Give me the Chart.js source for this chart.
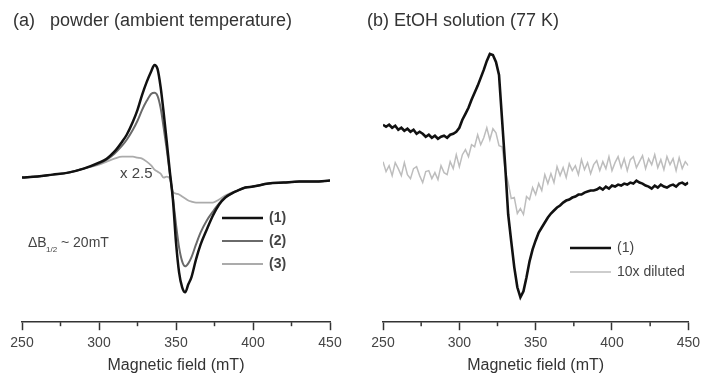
<!DOCTYPE html>
<html>
<head>
<meta charset="utf-8">
<script src="https://cdn.jsdelivr.net/npm/chart.js@4"></script>
<style>
body { margin: 0; background: #fff; }
canvas { position: absolute; top: 0; }
#chart-a { left: 0; }
#chart-b { left: 352px; }
</style>
</head>
<body>
<canvas id="chart-a" width="352" height="374"></canvas>
<canvas id="chart-b" width="353" height="374"></canvas>
<script>
// (a) powder, ambient temperature - field points (mT) and signals (arb. units)
const fieldA = [250, 260, 270, 280, 290, 300, 305, 310, 315, 318, 322, 325, 328, 331, 334, 336, 338, 340, 342, 344,
  346, 348, 350, 352, 354, 356, 358, 360, 363, 366, 370, 374, 378, 382, 386, 390, 395, 400, 410, 420, 430, 440, 450];
const powder1 = [2, 3, 5, 7, 11, 17, 21, 28, 38, 45, 58, 70, 85, 98, 109, 115, 111, 93, 67, 38,
  8, -20, -63, -93, -108, -113, -105, -98, -80, -65, -50, -36, -25, -18, -14, -11, -8, -7, -4, -3, -2, -2, -1];
const powder2 = [2, 3, 5, 7, 11, 16, 20, 26, 34, 40, 50, 59, 70, 79, 86, 87, 84, 72, 52, 30,
  6, -18, -45, -68, -82, -87, -84, -78, -65, -53, -41, -32, -24, -18, -14, -11, -8, -7, -4, -3, -2, -2, -1];
const powder3 = [2, 3, 5, 7, 11, 15, 18, 21, 23, 23, 23, 22, 21, 18, 14, 10, 8, 6, 2, 3,
  1, -12, -14, -15, -17, -19, -21, -22, -23, -23, -23, -23, -20, -16, -13, -11, -8, -7, -4, -3, -2, -2, -1];

// (b) EtOH solution, 77 K
const fieldB = [250, 252, 254, 256, 258, 260, 262, 264, 266, 268, 270, 272, 274, 276, 278, 280, 282, 284, 286, 288,
  290, 292, 294, 296, 298, 300, 302, 304, 306, 308, 310, 312, 314, 316, 318, 320, 322, 324, 326, 328,
  330, 332, 334, 336, 338, 340, 342, 344, 346, 348, 350, 352, 354, 356, 358, 360, 362, 364, 366, 368,
  370, 372, 374, 376, 378, 380, 382, 384, 386, 388, 390, 392, 394, 396, 398, 400, 402, 404, 406, 408,
  410, 412, 414, 416, 418, 420, 422, 424, 426, 428, 430, 432, 434, 436, 438, 440, 442, 444, 446, 448, 450];
const solution1 = [55, 53, 55, 52, 54, 50, 52, 49, 51, 48, 50, 46, 48, 46, 43, 45, 42, 44, 41, 43,
  44, 42, 45, 46, 48, 52, 60, 66, 72, 80, 87, 94, 102, 110, 119, 126, 125, 118, 105, 60,
  15, -35, -62, -88, -108, -118, -112, -98, -82, -70, -61, -53, -48, -43, -38, -34, -31, -28, -26, -23,
  -21, -20, -18, -17, -15, -15, -13, -12, -11, -11, -10, -8, -10, -7, -9, -6, -7, -5, -6, -4,
  -5, -3, -4, -1, -3, -4, -6, -7, -9, -6, -8, -5, -7, -8, -6, -5, -7, -4, -3, -5, -3];
const diluted = [18, 8, 14, 4, 17, 11, 4, 17, 5, 1, 11, 13, 4, -3, 8, 9, 1, 7, 0, 14,
  7, 5, 18, 11, 25, 13, 25, 30, 23, 35, 33, 45, 35, 42, 52, 40, 51, 47, 34, 33,
  9, -3, -19, -18, -34, -29, -35, -17, -20, -8, -15, -4, -11, 5, -4, 6, -3, 13, 4, 12,
  2, 16, 9, 14, 5, 20, 10, 17, 6, 15, 19, 9, 18, 11, 23, 9, 17, 23, 12, 21,
  9, 20, 23, 12, 18, 24, 11, 21, 15, 25, 12, 20, 10, 23, 15, 21, 9, 22, 11, 18, 14];

const minorTicks = [275, 325, 375, 425];

Chart.defaults.font.family = "'Liberation Sans', Arial, sans-serif";
Chart.defaults.color = '#333';

function toPoints(xs, ys) {
  return xs.map((x, i) => ({ x: x, y: ys[i] }));
}

// titles, notes, minor ticks and in-plot legend
const extras = {
  id: 'extras',
  afterDraw(chart, args, opts) {
    const ctx = chart.ctx;
    const xs = chart.scales.x;
    ctx.save();
    ctx.strokeStyle = '#333';
    ctx.lineWidth = 1.5;
    minorTicks.forEach(v => {
      const px = xs.getPixelForValue(v);
      ctx.beginPath();
      ctx.moveTo(px, xs.top);
      ctx.lineTo(px, xs.top + 4);
      ctx.stroke();
    });
    ctx.textBaseline = 'middle';
    (opts.texts || []).forEach(t => {
      ctx.font = t.font;
      ctx.fillStyle = t.color || '#333';
      ctx.fillText(t.text, t.x, t.y);
    });
    (opts.legend || []).forEach(item => {
      const ds = chart.data.datasets[item.index];
      ctx.strokeStyle = ds.borderColor;
      ctx.lineWidth = ds.borderWidth;
      ctx.beginPath();
      ctx.moveTo(item.x, item.y);
      ctx.lineTo(item.x + 41, item.y);
      ctx.stroke();
      ctx.font = item.font;
      ctx.fillStyle = '#444';
      ctx.fillText(item.label, item.x + 47, item.y);
    });
    ctx.restore();
  }
};

function makeConfig(datasets, padding, plugOpts) {
  return {
    type: 'line',
    data: { datasets: datasets },
    options: {
      responsive: false,
      animation: false,
      layout: { padding: padding },
      elements: { point: { radius: 0 } },
      plugins: { legend: { display: false }, tooltip: { enabled: false }, extras: plugOpts },
      scales: {
        x: {
          type: 'linear', min: 250, max: 450,
          border: { display: true, color: '#333', width: 1.5 },
          grid: { drawOnChartArea: false, tickLength: 8, tickColor: '#333', tickWidth: 1.5 },
          ticks: { stepSize: 50, padding: 5, color: '#444', font: { size: 14 }, maxRotation: 0, autoSkip: false },
          title: { display: true, text: 'Magnetic field (mT)', color: '#333',
                   font: { size: 16, lineHeight: 1 }, padding: { top: 1, bottom: 0 } }
        },
        y: { display: false, min: -143, max: 140 }
      }
    },
    plugins: [extras]
  };
}

new Chart(document.getElementById('chart-a'), makeConfig([
  { label: '(1)', data: toPoints(fieldA, powder1), borderColor: '#111', borderWidth: 2.5, cubicInterpolationMode: 'monotone' },
  { label: '(2)', data: toPoints(fieldA, powder2), borderColor: '#6a6a6a', borderWidth: 2, cubicInterpolationMode: 'monotone' },
  { label: '(3)', data: toPoints(fieldA, powder3), borderColor: '#ababab', borderWidth: 1.8, cubicInterpolationMode: 'monotone' }
], { left: 22, right: 22, top: 40, bottom: 0 }, {
  texts: [
    { text: '(a)', x: 13, y: 21, font: '18px "Liberation Sans", Arial' },
    { text: 'powder (ambient temperature)', x: 50, y: 21, font: '18px "Liberation Sans", Arial' },
    { text: 'x 2.5', x: 120, y: 174, font: '15px "Liberation Sans", Arial', color: '#444' },
    { text: '\u0394B', x: 28, y: 243, font: '14px "Liberation Sans", Arial', color: '#444' },
    { text: '1/2', x: 46, y: 250, font: '8px "Liberation Sans", Arial', color: '#444' },
    { text: '~ 20mT', x: 61, y: 243, font: '14px "Liberation Sans", Arial', color: '#444' }
  ],
  legend: [
    { index: 0, label: '(1)', x: 222, y: 218, font: 'bold 14px "Liberation Sans", Arial' },
    { index: 1, label: '(2)', x: 222, y: 241, font: 'bold 14px "Liberation Sans", Arial' },
    { index: 2, label: '(3)', x: 222, y: 264, font: 'bold 14px "Liberation Sans", Arial' }
  ]
}));

new Chart(document.getElementById('chart-b'), makeConfig([
  { label: '(1)', data: toPoints(fieldB, solution1), borderColor: '#111', borderWidth: 2.6, tension: 0 },
  { label: '10x diluted', data: toPoints(fieldB, diluted), borderColor: '#bdbdbd', borderWidth: 1.5, tension: 0 }
], { left: 31, right: 13, top: 40, bottom: 0 }, {
  texts: [
    { text: '(b) EtOH solution (77 K)', x: 15, y: 21, font: '18px "Liberation Sans", Arial' }
  ],
  legend: [
    { index: 0, label: '(1)', x: 218, y: 248, font: '14px "Liberation Sans", Arial' },
    { index: 1, label: '10x diluted', x: 218, y: 272, font: '14px "Liberation Sans", Arial' }
  ]
}));
</script>
</body>
</html>
